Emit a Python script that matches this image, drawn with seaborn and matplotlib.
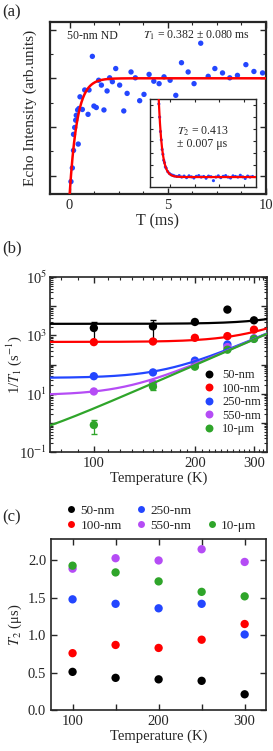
import numpy as np
import pandas as pd
import matplotlib
matplotlib.use('Agg')
import matplotlib.pyplot as plt
import seaborn as sns
from matplotlib.lines import Line2D
from matplotlib.ticker import MultipleLocator, FixedLocator, NullFormatter, LogLocator

sns.set_style('ticks')
plt.rcParams['font.family'] = ['Liberation Serif', 'DejaVu Serif']
plt.rcParams['mathtext.fontset'] = 'stix'
plt.rcParams['xtick.direction'] = 'in'
plt.rcParams['ytick.direction'] = 'in'

# ---- panel (a): echo intensity vs delay, 50-nm ND
t_a = [0.07, 0.14, 0.20, 0.20, 0.26, 0.31, 0.34, 0.41, 0.48, 0.44, 0.53, 0.65,
       0.77, 0.94, 0.99, 1.16, 1.24, 1.36, 1.48, 1.62, 1.75, 1.91, 2.04, 2.18,
       2.35, 2.55, 2.76, 2.93, 3.13, 3.35, 3.57, 3.79, 4.05, 4.29, 4.56, 4.81,
       5.12, 5.41, 5.70, 6.04, 6.34, 6.68, 7.06, 7.40, 7.79, 8.16, 8.55, 8.98,
       9.39, 9.83]
echo_a = [-0.12, 0.16, 0.52, 0.85, 0.99, 1.14, 1.24, 1.35, 1.38, 0.65, 1.62, 1.36,
          1.76, 1.26, 1.76, 2.45, 1.43, 1.40, 1.96, 1.86, 1.35, 1.74, 2.01, 1.93,
          2.20, 1.86, 1.33, 1.69, 2.13, 2.01, 1.54, 1.67, 2.08, 1.94, 1.89, 2.03,
          1.96, 1.65, 2.32, 2.13, 1.89, 2.72, 2.04, 2.20, 2.11, 2.01, 2.06, 2.28,
          2.14, 2.11]
T1_ms = 0.382
fit_a_plateau, fit_a_amp = 2.0, 2.4

# inset: T2 decay
t_in = [0.1, 0.2, 0.3, 0.4, 0.5, 0.6, 0.7, 0.8, 0.9, 1.0, 1.2, 1.4, 1.6, 1.8,
        2.0, 2.3, 2.6, 2.9, 3.2, 3.5, 3.8, 4.1, 4.4, 4.7, 5.0, 5.3, 5.6, 5.9,
        6.2, 6.5, 6.8, 7.1, 7.4, 7.7, 8.0, 8.3, 8.6, 8.9, 9.2, 9.5, 9.8, 10.1,
        10.4, 10.7, 11.0, 11.3, 11.6]
echo_in = [6.1, 5.0, 3.8, 3.1, 2.3, 1.9, 1.4, 1.2, 0.85, 0.75, 0.45, 0.3, 0.2, 0.15,
           0.1, 0.05, 0.12, 0.0, 0.08, -0.05, 0.1, 0.02, -0.08, 0.06, 0.12, 0.0,
           0.05, -0.1, 0.08, 0.03, -0.3, 0.0, 0.1, -0.05, 0.06, 0.12, 0.0, -0.08,
           0.1, 0.05, 0.0, 0.15, 0.02, -0.12, 0.08, 0.0, 0.05]
T2_us = 0.413
fit_in_amp = 8.0

# ---- panel (b): 1/T1 vs temperature
sizes = ['50-nm', '100-nm', '250-nm', '550-nm', '10-μm']
colors = ['#000000', '#ff0000', '#2346ff', '#b54cf5', '#2fa52a']
temps = [100, 150, 200, 250, 300]
rate_50nm = [1800, 2050, 2900, 7700, 3300]
rate_100nm = [590, 620, 830, 950, 1580]
rate_250nm = [40, 54, 137, 490, 780]
rate_550nm = [12, 23, 110, 400, 800]
rate_10um = [0.85, 17.5, 85, 325, 760]
err_50nm = [1200, 1300, 0, 0, 0]
err_10um = [0.42, 4, 0, 0, 0]
fit_b_const = [2500, 600, 35, 9, 0.15]   # A in A + B*T^5
fit_b_coef = 3.0e-10

# ---- panel (c): T2 vs temperature
t2_50nm = [0.51, 0.43, 0.41, 0.39, 0.21]
t2_100nm = [0.76, 0.87, 0.83, 0.94, 1.15]
t2_250nm = [1.48, 1.42, 1.36, 1.42, 1.01]
t2_550nm = [1.89, 2.03, 2.00, 2.15, 1.98]
t2_10um = [1.93, 1.84, 1.72, 1.58, 1.52]

fig = plt.figure(figsize=(2.73, 7.51), dpi=100)
ax_a = fig.add_axes([0.183, 0.742, 0.791, 0.229])
ax_in = fig.add_axes([0.549, 0.751, 0.388, 0.117])
ax_b = fig.add_axes([0.183, 0.398, 0.795, 0.233])
ax_c = fig.add_axes([0.187, 0.0546, 0.788, 0.228])

blue = '#2346ff'

# (a)
sns.scatterplot(x=t_a, y=echo_a, ax=ax_a, color=blue, s=15, edgecolor='none', zorder=2)
tt = np.linspace(0, 10, 400)
sns.lineplot(x=tt, y=fit_a_plateau - fit_a_amp * np.exp(-tt / T1_ms), ax=ax_a,
             color='red', lw=1.8, zorder=3)
ax_a.set_xlim(-1, 10)
ax_a.set_ylim(-0.37, 3.16)
ax_a.set_xticks([0, 5, 10])
ax_a.xaxis.set_minor_locator(MultipleLocator(1.25))
ax_a.yaxis.set_major_locator(MultipleLocator(1))
ax_a.yaxis.set_minor_locator(MultipleLocator(0.5))
ax_a.set_yticklabels([])
ax_a.tick_params(which='both', top=True, right=True, labelsize=10.5)
ax_a.tick_params(which='major', length=4, width=1)
ax_a.tick_params(which='minor', length=2, width=0.8)
ax_a.set_xlabel('T (ms)', fontsize=11.5, labelpad=1)
ax_a.set_ylabel('Echo Intensity (arb.units)', fontsize=11, labelpad=6)
for sp in ax_a.spines.values():
    sp.set_linewidth(1.6)
ax_a.text(0.08, 0.9, '50-nm ND', transform=ax_a.transAxes, fontsize=8.5)
ax_a.text(0.43, 0.9, r'$T_1$ = 0.382 ± 0.080 ms', transform=ax_a.transAxes, fontsize=8.5)

# inset
sns.scatterplot(x=t_in, y=echo_in, ax=ax_in, color=blue, s=5, edgecolor='none', zorder=2)
ti = np.linspace(0, 12, 400)
sns.lineplot(x=ti, y=fit_in_amp * np.exp(-ti / T2_us), ax=ax_in, color='red', lw=1.6, zorder=3)
ax_in.set_xlim(-1, 12)
ax_in.set_ylim(-0.83, 6.5)
ax_in.xaxis.set_major_locator(MultipleLocator(3, offset=1.5))
ax_in.yaxis.set_major_locator(MultipleLocator(1))
ax_in.set_xticklabels([])
ax_in.set_yticklabels([])
ax_in.tick_params(which='both', top=True, right=True, length=2.5, width=0.8)
for sp in ax_in.spines.values():
    sp.set_linewidth(1.0)
ax_in.text(0.26, 0.6, r'$T_2$ = 0.413', transform=ax_in.transAxes, fontsize=8.5)
ax_in.text(0.26, 0.45, '± 0.007 μs', transform=ax_in.transAxes, fontsize=8.5)

# (b)
rates = [rate_50nm, rate_100nm, rate_250nm, rate_550nm, rate_10um]
df_b = pd.DataFrame({
    'size': np.repeat(sizes, len(temps)),
    'T': temps * len(sizes),
    'rate': np.concatenate(rates),
})
ax_b.set_xscale('log')
ax_b.set_yscale('log')
sns.scatterplot(data=df_b, x='T', y='rate', hue='size', palette=colors, s=36,
                edgecolor='none', ax=ax_b, zorder=3)
ax_b.errorbar(temps, rate_50nm, yerr=err_50nm, fmt='none', ecolor='black',
              elinewidth=0.9, capsize=2, zorder=2)
ax_b.errorbar(temps, rate_10um, yerr=err_10um, fmt='none', ecolor=colors[4],
              elinewidth=0.9, capsize=2, zorder=2)
Tg = np.geomspace(70, 340, 300)
for a0, c in zip(fit_b_const, colors):
    sns.lineplot(x=Tg, y=a0 + fit_b_coef * Tg ** 5, ax=ax_b, color=c, lw=1.6, zorder=4)
ax_b.set_xlim(74, 328)
ax_b.set_ylim(0.1, 1e5)
ax_b.set_xticks([100, 200, 300])
ax_b.set_xticklabels(['100', '200', '300'])
ax_b.xaxis.set_minor_locator(FixedLocator([t for t in range(80, 330, 10) if t % 100]))
ax_b.xaxis.set_minor_formatter(NullFormatter())
ax_b.yaxis.set_major_locator(FixedLocator([1e-1, 1, 10, 100, 1e3, 1e4, 1e5]))
ax_b.set_yticklabels([r'10$^{-1}$', '', r'10$^{1}$', '', r'10$^{3}$', '', r'10$^{5}$'])
ax_b.yaxis.set_minor_locator(LogLocator(base=10, subs=np.arange(2, 10), numticks=20))
ax_b.yaxis.set_minor_formatter(NullFormatter())
ax_b.tick_params(which='both', top=True, right=True, labelsize=10.5)
ax_b.tick_params(axis='y', which='major', pad=2)
ax_b.tick_params(which='major', length=4, width=1)
ax_b.tick_params(which='minor', length=2, width=0.8)
for sp in ax_b.spines.values():
    sp.set_linewidth(1.2)
ax_b.set_xlabel('Temperature (K)', fontsize=10.5, labelpad=1)
ax_b.set_ylabel('')
fig.text(14 / 273, 1 - 365 / 751, r'1/$T_1$ (s$^{-1}$)', fontsize=10.5, rotation=90,
         ha='center', va='center')
ax_b.legend(loc='lower right', bbox_to_anchor=(1.0, 0.06), frameon=False, fontsize=9,
            handletextpad=0.05, labelspacing=0.12, markerscale=0.95, borderaxespad=0.1)

# (c)
t2s = [t2_50nm, t2_100nm, t2_250nm, t2_550nm, t2_10um]
df_c = pd.DataFrame({
    'size': np.repeat(sizes, len(temps)),
    'T': temps * len(sizes),
    't2': np.concatenate(t2s),
})
sns.scatterplot(data=df_c, x='T', y='t2', hue='size', palette=colors, s=36,
                edgecolor='none', ax=ax_c, legend=False)
ax_c.set_xlim(75, 325)
ax_c.set_ylim(0, 2.29)
ax_c.set_xticks([100, 200, 300])
ax_c.xaxis.set_minor_locator(FixedLocator([150, 250]))
ax_c.yaxis.set_major_locator(MultipleLocator(0.5))
ax_c.yaxis.set_major_formatter(matplotlib.ticker.FormatStrFormatter('%.1f'))
ax_c.tick_params(which='both', top=True, right=True, labelsize=10.5)
ax_c.tick_params(which='major', length=4, width=1)
ax_c.tick_params(which='minor', length=4, width=1)
for sp in ax_c.spines.values():
    sp.set_linewidth(1.2)
ax_c.set_xlabel('Temperature (K)', fontsize=10.5, labelpad=1)
ax_c.set_ylabel(r'$T_2$ (μs)', fontsize=10.5, labelpad=3)

handles = [Line2D([], [], ls='none', marker='o', ms=5, color=c, mec='none') for c in colors]
blank = Line2D([], [], ls='none')
fig.legend(handles[:4] + [blank, handles[4]], sizes[:4] + ['', sizes[4]], ncol=3,
           loc='center', bbox_to_anchor=(0.585, 1 - 518 / 751), frameon=False, fontsize=9.5,
           handletextpad=0.1, columnspacing=0.9, labelspacing=0.2, handlelength=1.2)

fig.text(0.01, 1 - 12 / 751, '(a)', fontsize=12, va='center')
fig.text(0.01, 1 - 248 / 751, '(b)', fontsize=12, va='center')
fig.text(0.01, 1 - 517 / 751, '(c)', fontsize=12, va='center')

fig.savefig('out.png', dpi=100)
